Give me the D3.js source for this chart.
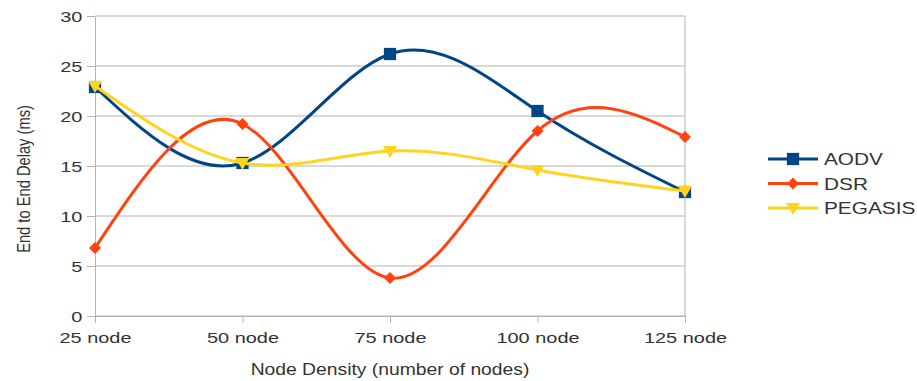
<!DOCTYPE html>
<html>
<head>
<meta charset="utf-8">
<script src="https://cdn.jsdelivr.net/npm/d3@7"></script>
<style>
  html, body { margin: 0; padding: 0; background: #fff; }
  svg { display: block; font-family: "Liberation Sans", Arial, sans-serif; }
</style>
</head>
<body>
<svg id="chart" width="917" height="381"></svg>
<script>
// Node density categories and end-to-end delay (ms) per protocol
const categories = ["25 node", "50 node", "75 node", "100 node", "125 node"];
const aodv = [22.9, 15.3, 26.2, 20.5, 12.4];
const dsr = [6.8, 19.2, 3.8, 18.5, 17.9];
const pegasis = [23.0, 15.3, 16.5, 14.6, 12.5];
const yTicks = [0, 5, 10, 15, 20, 25, 30];
const seriesNames = ["AODV", "DSR", "PEGASIS"];

const series = [
  { name: seriesNames[0], values: aodv, color: "#004586", symbol: "square" },
  { name: seriesNames[1], values: dsr, color: "#ff420e", symbol: "diamond" },
  { name: seriesNames[2], values: pegasis, color: "#ffd320", symbol: "triangle" }
];

const svg = d3.select("#chart");
const plotLeft = 95, plotRight = 685, plotTop = 16, plotBottom = 316;
const textColor = "#333";
const gridColor = "#b3b3b3";

const x = d3.scalePoint().domain(categories).range([plotLeft, plotRight]).padding(0);
const y = d3.scaleLinear().domain([0, 30]).range([plotBottom, plotTop]);

// horizontal gridlines
svg.append("g")
  .selectAll("line")
  .data(yTicks)
  .join("line")
  .attr("x1", plotLeft).attr("x2", plotRight)
  .attr("y1", d => y(d)).attr("y2", d => y(d))
  .attr("stroke", gridColor).attr("stroke-width", 1);

// right border of the plot area
svg.append("line")
  .attr("x1", plotRight).attr("x2", plotRight)
  .attr("y1", y(30)).attr("y2", y(0))
  .attr("stroke", gridColor);

// y axis
const yAxis = svg.append("g")
  .attr("transform", `translate(${plotLeft},0)`)
  .call(d3.axisLeft(y).tickValues(yTicks).tickSize(8).tickSizeOuter(0).tickPadding(4));
yAxis.select(".domain").attr("stroke", gridColor);
yAxis.selectAll(".tick line").attr("stroke", gridColor);
yAxis.selectAll(".tick text")
  .attr("fill", textColor)
  .style("font-size", "15px")
  .attr("x", -9.5)
  .attr("dy", "0.34em")
  .attr("transform", "scale(1.33,1)");

// x axis
const xAxis = svg.append("g")
  .attr("transform", `translate(0,${plotBottom})`)
  .call(d3.axisBottom(x).tickSize(7).tickSizeOuter(0).tickPadding(9));
xAxis.select(".domain").attr("stroke", gridColor);
xAxis.selectAll(".tick line").attr("stroke", gridColor);
xAxis.selectAll(".tick text")
  .attr("fill", textColor)
  .style("font-size", "15px")
  .attr("transform", "scale(1.33,1)");

// axis titles
svg.append("text")
  .attr("transform", `translate(${(plotLeft + plotRight) / 2},375) scale(1.17,1)`)
  .attr("text-anchor", "middle")
  .attr("fill", textColor)
  .style("font-size", "16.5px")
  .text("Node Density (number of nodes)");

svg.append("text")
  .attr("transform", `translate(30,179) scale(1.3,1) rotate(-90)`)
  .attr("text-anchor", "middle")
  .attr("fill", textColor)
  .style("font-size", "14.7px")
  .text("End to End Delay (ms)");

// marker shapes
function symbolPath(kind) {
  if (kind === "square") return d3.symbol(d3.symbolSquare, 150)();
  if (kind === "diamond") return "M0,-6L6,0L0,6L-6,0Z";
  return "M-7,-5L7,-5L0,7Z";
}

const line = d3.line()
  .x((d, i) => x(categories[i]))
  .y(d => y(d))
  .curve(d3.curveNatural);

series.forEach(s => {
  const g = svg.append("g");
  g.append("path")
    .attr("d", line(s.values))
    .attr("fill", "none")
    .attr("stroke", s.color)
    .attr("stroke-width", 3)
    .attr("stroke-linejoin", "round");
  g.selectAll("path.mark")
    .data(s.values)
    .join("path")
    .attr("class", "mark")
    .attr("d", symbolPath(s.symbol))
    .attr("transform", (d, i) => `translate(${x(categories[i])},${y(d)})`)
    .attr("fill", s.color);
});

// legend
const legend = svg.append("g");
series.forEach((s, i) => {
  const ly = 159 + i * 24.5;
  legend.append("line")
    .attr("x1", 768).attr("x2", 818)
    .attr("y1", ly).attr("y2", ly)
    .attr("stroke", s.color).attr("stroke-width", 3);
  legend.append("path")
    .attr("d", symbolPath(s.symbol))
    .attr("transform", `translate(793,${ly})`)
    .attr("fill", s.color);
  legend.append("text")
    .attr("transform", `translate(824,${ly + 6}) scale(1.3,1)`)
    .attr("fill", textColor)
    .style("font-size", "16px")
    .text(s.name);
});
</script>
</body>
</html>
